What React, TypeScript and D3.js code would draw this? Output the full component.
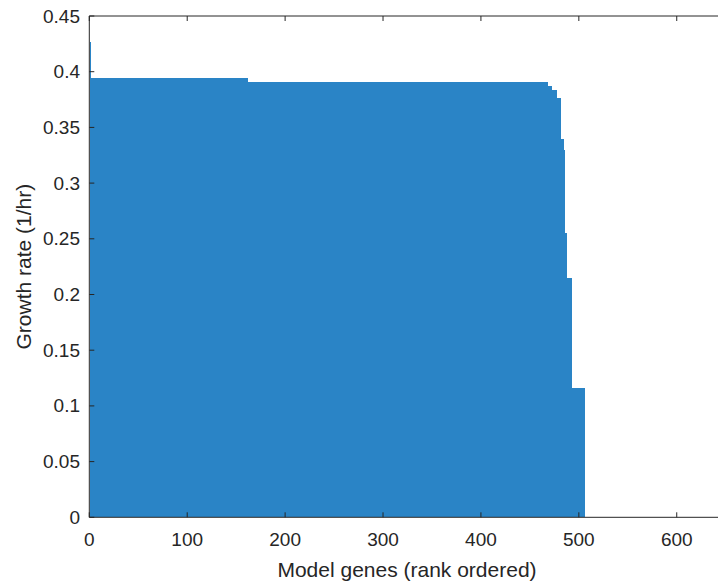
import React from "react";
import * as d3 from "d3";

// Growth rate of each single-gene knockout, sorted in descending order.
// Stored as runs: each level holds for the given number of consecutive genes.
const runLevels: number[] = [0.427, 0.394, 0.391, 0.387, 0.384, 0.376, 0.340, 0.330, 0.255, 0.215, 0.116];
const runCounts: number[] = [1, 161, 306, 4, 5, 4, 3, 1, 2, 6, 13];

const xTicks: number[] = [0, 100, 200, 300, 400, 500, 600];
const yTicks: number[] = [0, 0.05, 0.1, 0.15, 0.2, 0.25, 0.3, 0.35, 0.4, 0.45];

const xLabel = "Model genes (rank ordered)";
const yLabel = "Growth rate (1/hr)";

const growth: number[] = runLevels.flatMap((v, i) => Array(runCounts[i]).fill(v));

const W = 718;
const H = 581;
const left = 89.3;
const right = 725.7;
const top = 16;
const bottom = 517.3;
const axisColor = "#262626";
const font = "'Liberation Sans', Arial, Helvetica, sans-serif";

export default function App() {
  const x = d3.scaleLinear().domain([0, 650]).range([left, right]);
  const y = d3.scaleLinear().domain([0, 0.45]).range([bottom, top]);
  const unit = x(1) - x(0);
  const tickLen = 5;

  return (
    <svg
      width={W}
      height={H}
      style={{ position: "absolute", left: 0, top: 0, background: "#fff" }}
    >
      <defs>
        <clipPath id="plot-clip">
          <rect x={left} y={top} width={right - left} height={bottom - top} />
        </clipPath>
      </defs>
      <rect x={0} y={0} width={W} height={H} fill="#fff" />
      <g clipPath="url(#plot-clip)" shapeRendering="crispEdges">
        {growth.map((v, i) => {
          // bars are packed edge to edge; at this density they read as one fill
          const cx = x(i + 1);
          const w = i === 0 ? unit * 0.6 : unit;
          return (
            <rect
              key={i}
              x={cx - w / 2}
              y={y(v)}
              width={w}
              height={y(0) - y(v)}
              fill="#2a84c6"
            />
          );
        })}
      </g>

      {/* axes box */}
      <g stroke={axisColor} strokeWidth={1} fill="none">
        <line x1={left} y1={bottom} x2={right} y2={bottom} />
        <line x1={left} y1={top} x2={right} y2={top} />
        <line x1={left} y1={top} x2={left} y2={bottom} />
        <line x1={right} y1={top} x2={right} y2={bottom} />
        {xTicks.map((t) => (
          <g key={"xt" + t}>
            <line x1={x(t)} y1={bottom} x2={x(t)} y2={bottom - tickLen} />
            <line x1={x(t)} y1={top} x2={x(t)} y2={top + tickLen} />
          </g>
        ))}
        {yTicks.map((t) => (
          <g key={"yt" + t}>
            <line x1={left} y1={y(t)} x2={left + tickLen} y2={y(t)} />
            <line x1={right} y1={y(t)} x2={right - tickLen} y2={y(t)} />
          </g>
        ))}
      </g>

      {/* tick labels */}
      <g fill={axisColor} fontFamily={font} fontSize={19}>
        {xTicks.map((t) => (
          <text key={"xl" + t} x={x(t)} y={546} textAnchor="middle">
            {t}
          </text>
        ))}
        {yTicks.map((t) => (
          <text
            key={"yl" + t}
            x={80}
            y={y(t)}
            textAnchor="end"
            dominantBaseline="central"
          >
            {t}
          </text>
        ))}
      </g>

      {/* axis titles */}
      <text
        x={407}
        y={577}
        textAnchor="middle"
        fill={axisColor}
        fontFamily={font}
        fontSize={21}
      >
        {xLabel}
      </text>
      <text
        transform={`translate(31, ${(top + bottom) / 2}) rotate(-90)`}
        textAnchor="middle"
        fill={axisColor}
        fontFamily={font}
        fontSize={21}
      >
        {yLabel}
      </text>
    </svg>
  );
}
